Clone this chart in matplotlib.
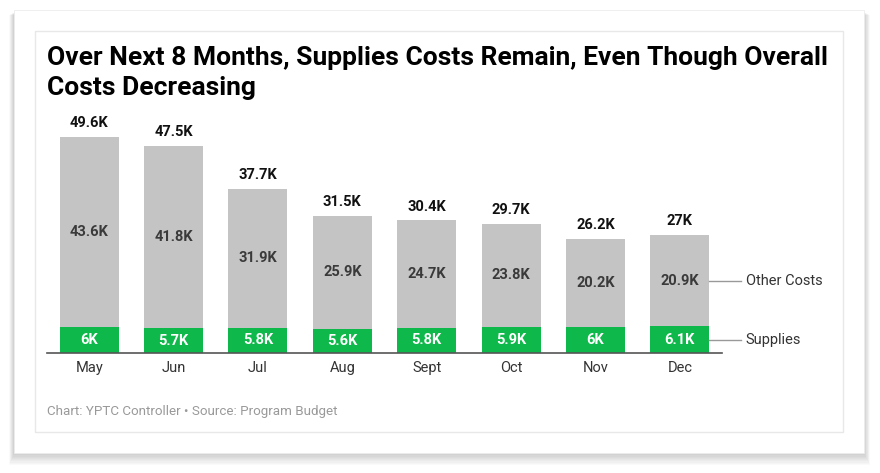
import matplotlib.pyplot as plt
from matplotlib.patches import Rectangle

months = ["May", "Jun", "Jul", "Aug", "Sept", "Oct", "Nov", "Dec"]
supplies = [6.0, 5.7, 5.8, 5.6, 5.8, 5.9, 6.0, 6.1]
other = [43.6, 41.8, 31.9, 25.9, 24.7, 23.8, 20.2, 20.9]
totals = [49.6, 47.5, 37.7, 31.5, 30.4, 29.7, 26.2, 27.0]

GREEN = "#0fb84a"
GREY = "#c4c4c4"
W, H = 880, 473

plt.rcParams["font.family"] = ["Roboto", "DejaVu Sans"]


def fmt(v):
    s = f"{v:.1f}"
    if s.endswith(".0"):
        s = s[:-2]
    return s + "K"


def px_rect(x0, y0, x1, y1, **kw):
    # rectangle given in image pixels (y down)
    return Rectangle((x0 / W, 1 - y1 / H), (x1 - x0) / W, (y1 - y0) / H,
                     transform=fig.transFigure, **kw)


fig = plt.figure(figsize=(W / 100, H / 100), dpi=100)
fig.patch.set_facecolor("white")

# card with a soft shadow, mostly below
for d in range(10, 0, -1):
    fig.patches.append(px_rect(14 - d * 0.5, 12 + d * 0.3, 864 + d * 0.6, 453 + d * 1.2,
                               facecolor="black", alpha=0.018, edgecolor="none", zorder=0))
fig.patches.append(px_rect(14, 10, 864, 453, facecolor="white", edgecolor="#ececec", lw=0.6, zorder=1))
fig.patches.append(px_rect(35, 31, 843, 432, facecolor="white", edgecolor="#e8e8e8", lw=1, zorder=1))

# plot area in pixels: x 47..722, baseline y 353
px_per_k = 4.355
top_px = 100
ax = fig.add_axes([47 / W, 1 - 353 / H, 675 / W, (353 - top_px) / H])
ax.set_zorder(2)
ax.patch.set_visible(False)
ax.set_xlim(-0.5, len(months) - 0.5)
ax.set_ylim(0, (353 - top_px) / px_per_k)

x = list(range(len(months)))
ax.bar(x, supplies, width=0.7, color=GREEN, zorder=2)
ax.bar(x, other, width=0.7, bottom=supplies, color=GREY, zorder=2)

for i in x:
    ax.text(i, supplies[i] / 2, fmt(supplies[i]), ha="center", va="center",
            color="white", fontsize=10.5, fontweight="bold")
    ax.text(i, supplies[i] + other[i] / 2, fmt(other[i]), ha="center", va="center",
            color="#3a3a3a", fontsize=10.5, fontweight="bold")
    ax.text(i, totals[i] + 1.6, fmt(totals[i]), ha="center", va="bottom",
            color="#111111", fontsize=10.5, fontweight="bold")

for s in ["top", "right", "left"]:
    ax.spines[s].set_visible(False)
ax.spines["bottom"].set_color("#555555")
ax.spines["bottom"].set_linewidth(1.2)
ax.set_yticks([])
ax.set_xticks(x)
ax.set_xticklabels(months, fontsize=10.5, color="#333333")
ax.tick_params(axis="x", length=0, pad=6)

# series labels on the right
last = len(months) - 1
for yv, name in [(supplies[last] + other[last] / 2, "Other Costs"), (supplies[last] / 2, "Supplies")]:
    ax.plot([last + 0.35, last + 0.72], [yv, yv], color="#999999", lw=1, clip_on=False)
    ax.text(last + 0.78, yv, name, ha="left", va="center", fontsize=10.5, color="#333333")

fig.text(47 / W, 1 - 58 / H, "Over Next 8 Months, Supplies Costs Remain, Even Though Overall",
         fontsize=19, fontweight="bold", color="black", va="center", ha="left", zorder=3)
fig.text(47 / W, 1 - 88 / H, "Costs Decreasing",
         fontsize=19, fontweight="bold", color="black", va="center", ha="left", zorder=3)
fig.text(47 / W, 1 - 411 / H, "Chart: YPTC Controller \u2022 Source: Program Budget",
         fontsize=9.6, color="#999999", va="center", ha="left", zorder=3)

fig.savefig("out.png", dpi=100, facecolor="white")
